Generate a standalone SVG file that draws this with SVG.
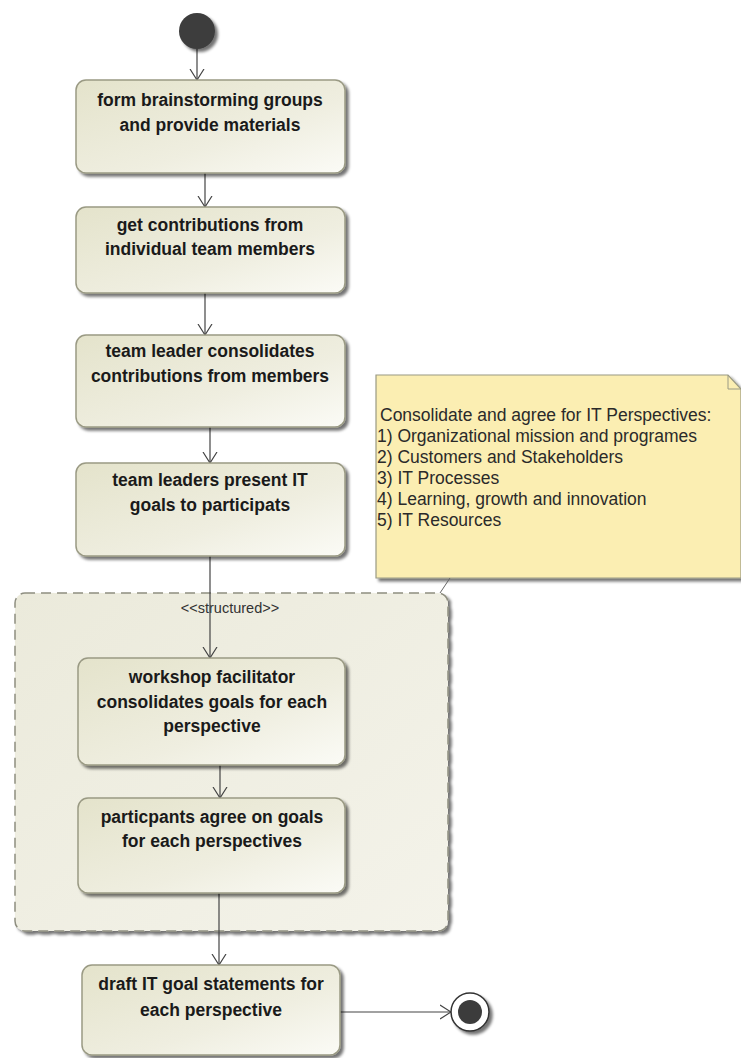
<svg xmlns="http://www.w3.org/2000/svg" width="741" height="1058" viewBox="0 0 741 1058">
  <defs>
    <linearGradient id="actFill" x1="0" y1="0" x2="1" y2="1">
      <stop offset="0" stop-color="#e4e3cb"/>
      <stop offset="0.6" stop-color="#efeee0"/>
      <stop offset="1" stop-color="#fbfbf6"/>
    </linearGradient>
    <linearGradient id="regionFill" x1="0" y1="0" x2="1" y2="1">
      <stop offset="0" stop-color="#ebeadb"/>
      <stop offset="1" stop-color="#f4f3ea"/>
    </linearGradient>
    <filter id="shadow" x="-10%" y="-10%" width="130%" height="130%">
      <feGaussianBlur in="SourceAlpha" stdDeviation="1.5"/>
      <feOffset dx="2.5" dy="2.5" result="b"/>
      <feComponentTransfer><feFuncA type="linear" slope="0.55"/></feComponentTransfer>
      <feMerge><feMergeNode/><feMergeNode in="SourceGraphic"/></feMerge>
    </filter>
    <marker id="open" viewBox="0 0 12 16" refX="11" refY="8" markerWidth="12" markerHeight="16" markerUnits="userSpaceOnUse" orient="auto">
      <path d="M0,1 L11,8 L0,15" fill="none" stroke="#444" stroke-width="1.2"/>
    </marker>
  </defs>
  <style>
    .act { fill: url(#actFill); stroke: #9a9a84; stroke-width: 1.5; filter: url(#shadow); }
    .lbl { font-family: "Liberation Sans", Arial, sans-serif; font-weight: bold; font-size: 17.5px; fill: #1a1a1a; text-anchor: middle; }
    .note { font-family: "Liberation Sans", Arial, sans-serif; font-size: 17.5px; fill: #2a2a2a; }
    .flow { stroke: #444; stroke-width: 1.2; fill: none; marker-end: url(#open); }
  </style>

  <rect width="741" height="1058" fill="#ffffff"/>

  <!-- structured activity region -->
  <g id="structured">
    <rect x="15" y="593" width="433" height="338" rx="10" fill="url(#regionFill)" stroke="#8e8e80" stroke-width="1.5" stroke-dasharray="10,6" filter="url(#shadow)"/>
    <text x="230" y="613" font-family="Liberation Sans, Arial, sans-serif" font-size="14.5" fill="#333" text-anchor="middle">&lt;&lt;structured&gt;&gt;</text>
  </g>

  <!-- comment note -->
  <g id="note">
    <path d="M376,375 L728,375 L741,389 L741,578 L376,578 Z" fill="#fbeeb2" stroke="#9a9a84" stroke-width="1.2" filter="url(#shadow)"/>
    <path d="M728,375 L728,389 L741,389" fill="none" stroke="#9a9a84" stroke-width="1"/>
    <text class="note" x="380" y="421">Consolidate and agree for IT Perspectives:</text>
    <text class="note" x="377" y="442">1) Organizational mission and programes</text>
    <text class="note" x="377" y="463">2) Customers and Stakeholders</text>
    <text class="note" x="377" y="484">3) IT Processes</text>
    <text class="note" x="377" y="505">4) Learning, growth and innovation</text>
    <text class="note" x="377" y="526">5) IT Resources</text>
  </g>

  <!-- connectors -->
  <g id="connectors">
    <line class="flow" x1="197" y1="49" x2="197" y2="80"/>
    <line class="flow" x1="205" y1="173" x2="205" y2="207"/>
    <line class="flow" x1="205" y1="293" x2="205" y2="335"/>
    <line class="flow" x1="210" y1="427" x2="210" y2="463"/>
    <line class="flow" x1="210" y1="556" x2="210" y2="658"/>
    <line class="flow" x1="220" y1="765" x2="220" y2="798"/>
    <line class="flow" x1="219" y1="893" x2="219" y2="965"/>
    <line class="flow" x1="340" y1="1012" x2="451" y2="1012"/>
    <line x1="450" y1="578" x2="440" y2="593" stroke="#666" stroke-width="1"/>
  </g>

  <g id="initial">
    <circle cx="197" cy="31" r="18" fill="#3c3c3c" filter="url(#shadow)"/>
  </g>

  <g id="a1">
    <rect class="act" x="76" y="80" width="269" height="93" rx="10"/>
    <text class="lbl" x="210" y="106">form brainstorming groups</text>
    <text class="lbl" x="210" y="131">and provide materials</text>
  </g>
  <g id="a2">
    <rect class="act" x="76" y="207" width="269" height="86" rx="10"/>
    <text class="lbl" x="210" y="231">get contributions from</text>
    <text class="lbl" x="210" y="255">individual team members</text>
  </g>
  <g id="a3">
    <rect class="act" x="76" y="335" width="269" height="92" rx="10"/>
    <text class="lbl" x="210" y="357">team leader consolidates</text>
    <text class="lbl" x="210" y="382">contributions from members</text>
  </g>
  <g id="a4">
    <rect class="act" x="76" y="463" width="269" height="93" rx="10"/>
    <text class="lbl" x="210" y="486">team leaders present IT</text>
    <text class="lbl" x="210" y="511">goals to participats</text>
  </g>
  <g id="a5">
    <rect class="act" x="78" y="658" width="267" height="107" rx="10"/>
    <text class="lbl" x="212" y="683">workshop facilitator</text>
    <text class="lbl" x="212" y="708">consolidates goals for each</text>
    <text class="lbl" x="212" y="732">perspective</text>
  </g>
  <g id="a6">
    <rect class="act" x="78" y="798" width="267" height="95" rx="10"/>
    <text class="lbl" x="212" y="823">particpants agree on goals</text>
    <text class="lbl" x="212" y="847">for each perspectives</text>
  </g>
  <g id="a7">
    <rect class="act" x="82" y="965" width="258" height="90" rx="10"/>
    <text class="lbl" x="211" y="990">draft IT goal statements for</text>
    <text class="lbl" x="211" y="1016">each perspective</text>
  </g>

  <g id="final">
    <circle cx="470" cy="1012" r="19" fill="#ffffff" stroke="#333" stroke-width="1.5" filter="url(#shadow)"/>
    <circle cx="470" cy="1012" r="12" fill="#3c3c3c"/>
  </g>
</svg>
